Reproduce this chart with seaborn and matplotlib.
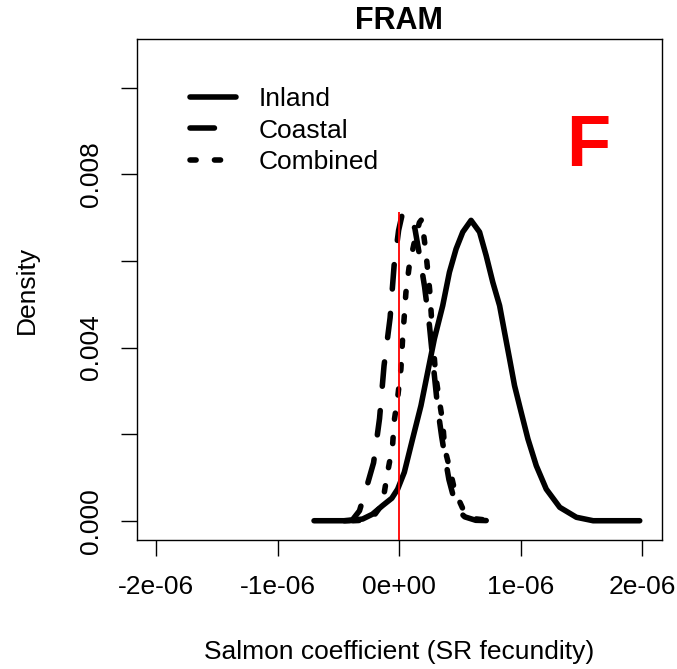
import numpy as np
import matplotlib
matplotlib.use("Agg")
import matplotlib.pyplot as plt
import seaborn as sns

# ---- data (x in units of 1e-6, density in units of 1e-3) ----
inland_x = [-0.70, -0.55, -0.41, -0.30, -0.22, -0.136, -0.06, -0.012, 0.043, 0.111,
            0.180, 0.235, 0.290, 0.359, 0.414, 0.469, 0.524, 0.592, 0.662, 0.716,
            0.771, 0.827, 0.868, 0.909, 0.950, 1.005, 1.060, 1.129, 1.211, 1.322,
            1.459, 1.597, 1.98]
inland_y = [0.0, 0.0, 0.0, 0.04, 0.15, 0.35, 0.52, 0.73, 1.12, 1.89,
            2.66, 3.43, 4.20, 4.97, 5.74, 6.28, 6.67, 6.94, 6.67, 6.13,
            5.51, 4.97, 4.35, 3.74, 3.12, 2.50, 1.89, 1.27, 0.73, 0.31,
            0.08, 0.0, 0.0]

coastal_x = [-0.45, -0.384, -0.326, -0.27, -0.210, -0.161, -0.124, -0.074, -0.041,
             -0.004, 0.029, 0.087, 0.13, 0.17, 0.21, 0.25, 0.285, 0.318, 0.35,
             0.376, 0.41, 0.458, 0.50, 0.54, 0.631, 0.771]
coastal_y = [0.0, 0.02, 0.23, 0.75, 1.34, 2.36, 3.58, 4.69, 5.90,
             6.71, 7.12, 7.05, 6.75, 6.10, 5.40, 4.50, 3.50, 2.60, 1.95,
             1.50, 0.95, 0.44, 0.20, 0.09, 0.01, 0.0]

combined_x = [-0.38, -0.30, -0.219, -0.16, -0.122, -0.095, -0.054, -0.040, -0.012,
              0.015, 0.029, 0.043, 0.056, 0.084, 0.125, 0.167, 0.186, 0.219, 0.252,
              0.276, 0.301, 0.334, 0.359, 0.375, 0.417, 0.458, 0.524, 0.606, 0.771]
combined_y = [0.0, 0.01, 0.07, 0.30, 0.65, 1.11, 1.73, 2.31, 2.84,
              3.51, 4.21, 4.74, 5.27, 5.90, 6.43, 6.89, 6.96, 6.24, 5.32,
              4.28, 3.35, 2.73, 2.27, 1.67, 1.20, 0.69, 0.28, 0.05, 0.0]

series_names = ["Inland", "Coastal", "Combined"]
ref_line_top = 7.13  # red reference line at x = 0 (density units 1e-3)

xtick_values = [-2, -1, 0, 1, 2]
xtick_labels = ["-2e-06", "-1e-06", "0e+00", "1e-06", "2e-06"]
ytick_values = [0, 2, 4, 6, 8, 10]
ytick_labels = ["0.000", "", "0.004", "", "0.008", ""]

title = "FRAM"
xlabel = "Salmon coefficient (SR fecundity)"
ylabel = "Density"
panel_letter = "F"

# ---- styling ----
sns.set_theme(style="white")
plt.rcParams["font.family"] = ["Liberation Sans", "DejaVu Sans"]

W, H = 677, 669
fig = plt.figure(figsize=(W / 100, H / 100), dpi=100)
ax = fig.add_axes([136.6 / W, 1 - 540 / H, 525 / W, 501 / H])

lw = 4.0
styles = {
    "Inland": dict(linestyle="-"),
    "Coastal": dict(linestyle=(0, (4.4, 4.4))),
    "Combined": dict(linestyle=(0, (1.1, 3.3))),
}
data = {
    "Inland": (inland_x, inland_y),
    "Coastal": (coastal_x, coastal_y),
    "Combined": (combined_x, combined_y),
}
for name in series_names:
    xs = np.array(data[name][0]) * 1e-6
    ys = np.array(data[name][1]) * 1e-3
    sns.lineplot(x=xs, y=ys, ax=ax, sort=False, estimator=None, color="black",
                 lw=lw, label=name, solid_capstyle="round", dash_capstyle="round",
                 solid_joinstyle="round", dash_joinstyle="round", **styles[name])

ax.plot([0, 0], [-0.001, ref_line_top * 1e-3], color="#ff0000", lw=1.3, zorder=10,
        solid_capstyle="butt")

ax.set_xlim(-2.16e-6, 2.16e-6)
ax.set_ylim(-0.000445, 0.01113)
ax.set_xticks(np.array(xtick_values) * 1e-6)
ax.set_xticklabels(xtick_labels)
ax.set_yticks(np.array(ytick_values) * 1e-3)
ax.set_yticklabels(ytick_labels, rotation=90, va="center")
ax.set_xlabel("")
ax.set_ylabel("")

fs = 19
ax.tick_params(axis="both", direction="out", length=11.5, width=1.0, color="black",
               labelsize=fs, labelcolor="black", bottom=True, left=True)
ax.tick_params(axis="x", pad=14)
ax.tick_params(axis="y", pad=13)
for s in ax.spines.values():
    s.set_visible(True)
    s.set_color("black")
    s.set_linewidth(1.0)

leg = ax.legend(loc="upper left", bbox_to_anchor=(189.8 / W, 1 - 87 / H),
                bbox_transform=fig.transFigure, frameon=False, fontsize=fs,
                borderpad=0, borderaxespad=0, handlelength=1.76, handletextpad=0.86,
                labelspacing=0.29)
for t in leg.get_texts():
    t.set_color("black")

fig.text(398.7 / W, 1 - 21 / H, title, ha="center", va="center", fontsize=22,
         fontweight="bold", color="black")
fig.text(398.7 / W, 1 - 652 / H, xlabel, ha="center", va="center", fontsize=fs, color="black")
fig.text(27 / W, 1 - 290 / H, ylabel, ha="center", va="center", rotation=90,
         fontsize=fs, color="black")
fig.text(588 / W, 1 - 146.5 / H, panel_letter, ha="center", va="center", fontsize=52,
         fontweight="bold", color="red")

fig.savefig("out.png", dpi=100, facecolor="white")
